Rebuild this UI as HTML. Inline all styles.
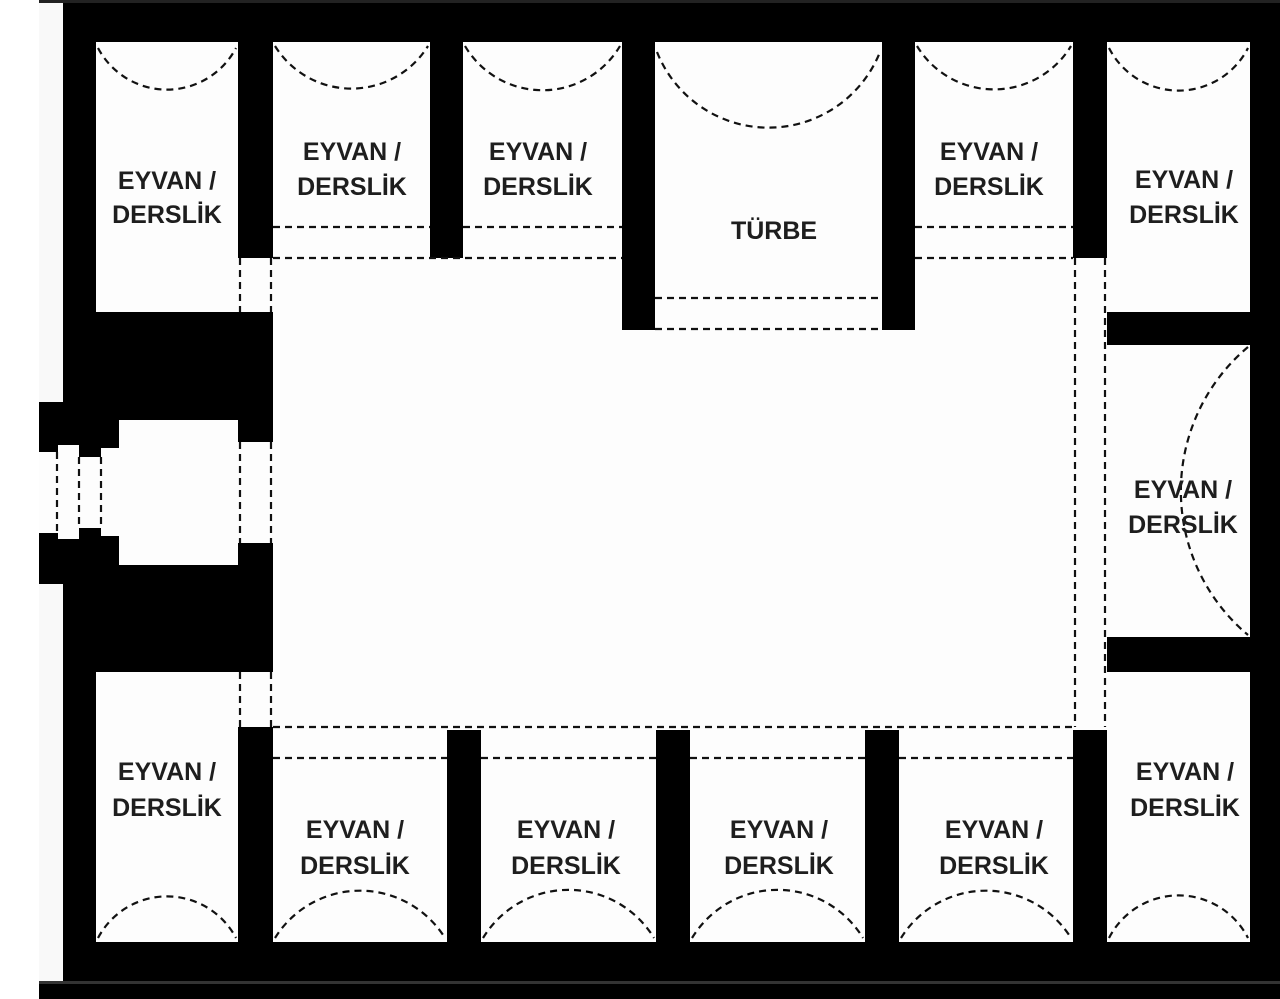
<!DOCTYPE html>
<html><head><meta charset="utf-8"><style>
html,body{margin:0;padding:0;background:#fff;width:1280px;height:999px;overflow:hidden}
svg{display:block}
text{font-family:"Liberation Sans",sans-serif;font-weight:bold;font-size:25px;fill:#1e1e1e;text-anchor:middle}
</style></head><body>
<svg width="1280" height="999" viewBox="0 0 1280 999" xmlns="http://www.w3.org/2000/svg">
<rect x="0" y="0" width="1280" height="999" fill="#fff"/>
<rect x="39" y="0" width="24" height="999" fill="#f9f9f9"/>
<rect x="39" y="0" width="1241" height="3" fill="#222"/>
<rect x="63" y="3" width="1217" height="978" fill="#000"/>
<rect x="39" y="981" width="1241" height="3" fill="#333"/>
<rect x="39" y="984" width="1241" height="15" fill="#000"/>
<rect x="39" y="402" width="24" height="182" fill="#000"/>
<g fill="#fdfdfd">
<rect x="96" y="42" width="142" height="270"/>
<rect x="273" y="42" width="157" height="220"/>
<rect x="463" y="42" width="159" height="220"/>
<rect x="655" y="42" width="227" height="288"/>
<rect x="915" y="42" width="158" height="220"/>
<rect x="1107" y="42" width="143" height="270"/>
<rect x="273" y="258" width="349" height="472"/>
<rect x="622" y="330" width="293" height="400"/>
<rect x="915" y="258" width="192" height="472"/>
<rect x="238" y="258" width="35" height="54"/>
<rect x="238" y="672" width="35" height="55"/>
<rect x="1073" y="258" width="34" height="54"/>
<rect x="1073" y="345" width="177" height="292"/>
<rect x="1073" y="672" width="34" height="55"/>
<rect x="39" y="452" width="19" height="81"/>
<rect x="58" y="445" width="21" height="94"/>
<rect x="79" y="457" width="22" height="71"/>
<rect x="101" y="448" width="18" height="88"/>
<rect x="119" y="420" width="119" height="145"/>
<rect x="238" y="442" width="35" height="101"/>
<rect x="96" y="672" width="142" height="270"/>
<rect x="273" y="727" width="174" height="215"/>
<rect x="481" y="727" width="175" height="215"/>
<rect x="690" y="727" width="175" height="215"/>
<rect x="899" y="727" width="174" height="215"/>
<rect x="1107" y="672" width="143" height="270"/>
</g>
<g fill="none" stroke="#111" stroke-width="2.2" stroke-dasharray="7 5">
<path d="M98 48 A78 78 0 0 0 236 48"/>
<path d="M275 46 A90 90 0 0 0 428 46"/>
<path d="M465 46 A90 90 0 0 0 620 46"/>
<path d="M657 52 A120 120 0 0 0 880 52"/>
<path d="M917 46 A90 90 0 0 0 1071 46"/>
<path d="M1109 48 A78 78 0 0 0 1248 48"/>
<path d="M1248 347 A188 188 0 0 0 1248 635"/>
<path d="M98 938 A78 78 0 0 1 236 938"/>
<path d="M275 938 A100 100 0 0 1 445 938"/>
<path d="M483 938 A100 100 0 0 1 654 938"/>
<path d="M692 938 A100 100 0 0 1 863 938"/>
<path d="M901 938 A100 100 0 0 1 1071 938"/>
<path d="M1109 938 A78 78 0 0 1 1248 938"/>
<path d="M273 227H430M463 227H622M273 258H622M915 227H1073M915 258H1073"/>
<path d="M655 298H882M655 329H882"/>
<path d="M273 727H1073M273 758H447M481 758H656M690 758H865M899 758H1073"/>
<path d="M240 258V312M271 258V312M240 672V727M271 672V727"/>
<path d="M1075 258V727M1105 258V727"/>
<path d="M240 442V543M271 442V543"/>
<path d="M57 452V533M79 457V528M101 457V528"/>
</g>
<text x="167" y="189">EYVAN /</text><text x="167" y="223">DERSLİK</text>
<text x="352" y="160">EYVAN /</text><text x="352" y="195">DERSLİK</text>
<text x="538" y="160">EYVAN /</text><text x="538" y="195">DERSLİK</text>
<text x="774" y="239">TÜRBE</text>
<text x="989" y="160">EYVAN /</text><text x="989" y="195">DERSLİK</text>
<text x="1184" y="188">EYVAN /</text><text x="1184" y="223">DERSLİK</text>
<text x="1183" y="498">EYVAN /</text><text x="1183" y="533">DERSLİK</text>
<text x="167" y="780">EYVAN /</text><text x="167" y="816">DERSLİK</text>
<text x="355" y="838">EYVAN /</text><text x="355" y="874">DERSLİK</text>
<text x="566" y="838">EYVAN /</text><text x="566" y="874">DERSLİK</text>
<text x="779" y="838">EYVAN /</text><text x="779" y="874">DERSLİK</text>
<text x="994" y="838">EYVAN /</text><text x="994" y="874">DERSLİK</text>
<text x="1185" y="780">EYVAN /</text><text x="1185" y="816">DERSLİK</text>
</svg>
</body></html>
